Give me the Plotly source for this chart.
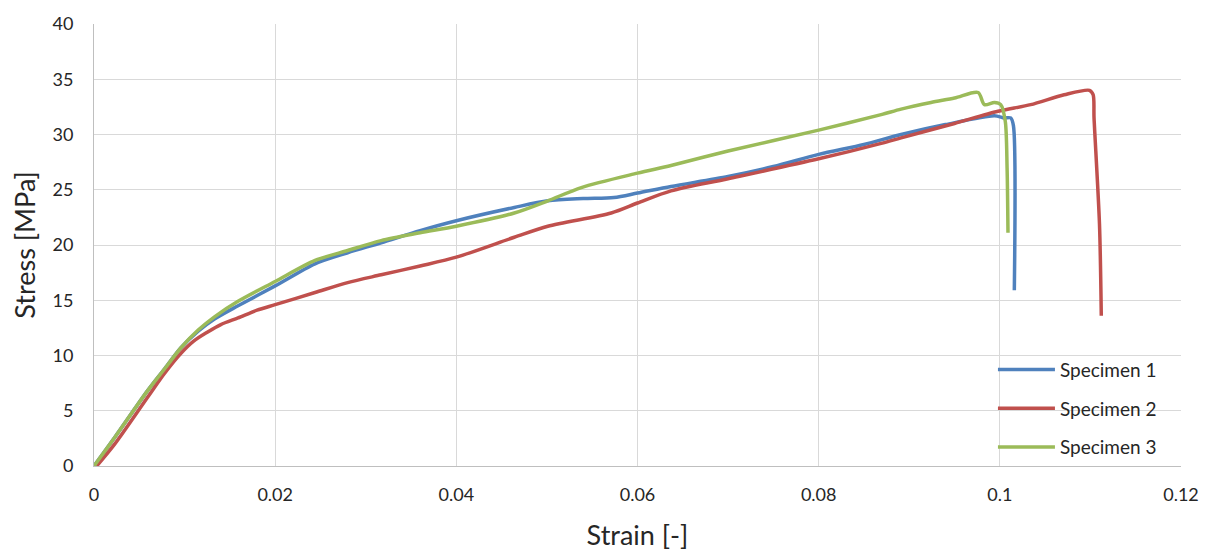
import plotly.graph_objects as go

# Specimen 1
s1_strain = [0, 0.0023, 0.0059, 0.0078, 0.0096, 0.0115, 0.0133, 0.0159, 0.02, 0.0244, 0.028, 0.0317,
             0.036, 0.04, 0.0464, 0.0501, 0.054, 0.0574, 0.06, 0.0637, 0.07, 0.075, 0.08, 0.085,
             0.0891, 0.094, 0.0994, 0.1005, 0.1012, 0.1015, 0.1016]
s1_stress = [0, 2.6, 6.8, 8.8, 10.7, 12.2, 13.3, 14.5, 16.3, 18.3, 19.3, 20.2,
             21.3, 22.2, 23.4, 24.0, 24.2, 24.3, 24.7, 25.3, 26.2, 27.1, 28.2, 29.1,
             30.0, 30.9, 31.7, 31.5, 31.5, 30.8, 15.9]

# Specimen 2
s2_strain = [0.0003, 0.0023, 0.0059, 0.0078, 0.0096, 0.011, 0.0125, 0.014, 0.0159, 0.018, 0.02, 0.0244,
             0.028, 0.0317, 0.036, 0.04, 0.0464, 0.0501, 0.0571, 0.06, 0.0637, 0.07, 0.08, 0.0869,
             0.0891, 0.095, 0.0998, 0.1034, 0.1071, 0.1099, 0.1103, 0.1104, 0.1110, 0.1112]
s2_stress = [0, 2.0, 6.2, 8.4, 10.2, 11.3, 12.1, 12.8, 13.4, 14.1, 14.6, 15.7,
             16.6, 17.3, 18.1, 18.9, 20.7, 21.7, 22.9, 23.8, 24.9, 26.0, 27.8, 29.2,
             29.7, 31.0, 32.1, 32.7, 33.6, 34.0, 33.6, 31.5, 21.9, 13.6]

# Specimen 3
s3_strain = [0, 0.0023, 0.0059, 0.0078, 0.0096, 0.0115, 0.0133, 0.0159, 0.02, 0.0244, 0.028, 0.0317,
             0.036, 0.04, 0.0464, 0.0501, 0.0538, 0.06, 0.0637, 0.07, 0.08, 0.0869, 0.0891, 0.0924,
             0.095, 0.0976, 0.0983, 0.0994, 0.1001, 0.1006, 0.1008, 0.1009]
s3_stress = [0, 2.6, 6.8, 8.8, 10.7, 12.3, 13.5, 14.9, 16.7, 18.6, 19.5, 20.4,
             21.1, 21.7, 22.9, 24.0, 25.2, 26.5, 27.2, 28.5, 30.4, 31.8, 32.3, 32.9,
             33.3, 33.8, 32.7, 32.9, 32.7, 31.2, 27.0, 21.1]

names = ["Specimen 1", "Specimen 2", "Specimen 3"]
colors = ["#4F81BD", "#C0504D", "#9BBB59"]

x_ticks = [0, 0.02, 0.04, 0.06, 0.08, 0.1, 0.12]
x_tick_labels = ["0", "0.02", "0.04", "0.06", "0.08", "0.1", "0.12"]
y_ticks = [0, 5, 10, 15, 20, 25, 30, 35, 40]

FONT = "Lato, 'Open Sans', sans-serif"
TXT = "#262626"

fig = go.Figure()
for i, (xs, ys) in enumerate([(s1_strain, s1_stress), (s2_strain, s2_stress), (s3_strain, s3_stress)]):
    fig.add_trace(go.Scatter(
        x=xs, y=ys, mode="lines", name=names[i], legendgroup=names[i],
        line=dict(color=colors[i], width=3.5, shape="spline", smoothing=0.8),
    ))

fig.update_layout(
    width=1206, height=543,
    margin=dict(l=86, r=33, t=16, b=85),
    paper_bgcolor="white", plot_bgcolor="white",
    font=dict(family=FONT, color=TXT, size=18),
    legend=dict(
        x=0.827, y=0.261, xanchor="left", yanchor="top",
        bgcolor="rgba(0,0,0,0)", font=dict(size=19, color=TXT, family=FONT),
        itemwidth=57, tracegroupgap=11,
    ),
    xaxis=dict(
        range=[0, 0.12], tickvals=x_ticks, ticktext=x_tick_labels,
        showgrid=True, gridcolor="#D9D9D9", gridwidth=1,
        showline=True, linecolor="#BFBFBF", linewidth=1, mirror=False,
        zeroline=False, ticks="", ticklen=0, automargin=False,
        ticklabelstandoff=12,
        tickfont=dict(size=18, color=TXT),
        title=dict(text="Strain [-]", font=dict(size=27, color=TXT), standoff=24),
    ),
    yaxis=dict(
        range=[0, 40], tickvals=y_ticks,
        showgrid=True, gridcolor="#D9D9D9", gridwidth=1,
        showline=True, linecolor="#BFBFBF", linewidth=1,
        zeroline=False, ticks="", ticklen=0, automargin=False,
        ticklabelstandoff=16,
        tickfont=dict(size=18, color=TXT),
        title=dict(text="Stress [MPa]", font=dict(size=27, color=TXT), standoff=12),
    ),
)

fig.write_html("out.html")
